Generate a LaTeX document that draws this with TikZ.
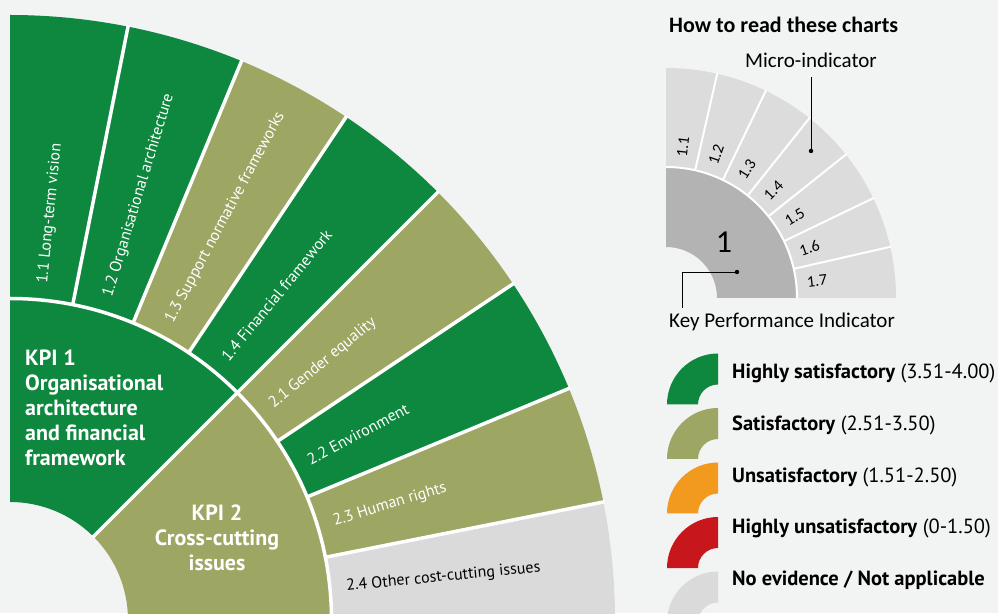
\documentclass[tikz,border=0pt]{standalone}
\usepackage{fontspec}
\setmainfont{PT Sans}
\newfontfamily\calfont{Carlito}
\usetikzlibrary{positioning}

\definecolor{bggray}{HTML}{F2F3F3}
\definecolor{kgreen}{HTML}{0E883E}
\definecolor{kolive}{HTML}{9DA663}
\definecolor{kgray}{HTML}{DADADA}
\definecolor{korange}{HTML}{F29A1E}
\definecolor{kred}{HTML}{C8171C}
\definecolor{mkpi}{HTML}{B3B3B3}
\definecolor{mmicro}{HTML}{DCDCDC}

% colour, from angle, to angle, inner radius, outer radius
\newcommand{\ringpart}[5]{%
  \fill[#1] (#2:#4) arc[start angle=#2,end angle=#3,radius=#4]
    -- (#3:#5) arc[start angle=#3,end angle=#2,radius=#5] -- cycle;}

\begin{document}
\begin{tikzpicture}[x=1pt,y=1pt]
\tikzset{
	%labels in the outer ring
	milabel/.style={anchor=west, inner sep=0pt, font=\fontsize{16}{18}\selectfont},
	%white gaps between the parts
	gap/.style={white, line width=3.5pt},
	smallgap/.style={white, line width=2pt},
	%KPI names
	kpilabel/.style={inner sep=0pt, text=white, font=\bfseries\fontsize{22}{25}\selectfont},
	%legend texts
	keytext/.style={anchor=west, inner sep=0pt, font=\fontsize{20.5}{23}\selectfont},
	dotlbl/.style={font=\calfont\fontsize{21}{24}\selectfont}
}
\useasboundingbox (0,0) rectangle (998,613);
\fill[bggray] (0,0) rectangle (998,613);

\begin{scope}[shift={(10,-7)}]
	%KPI ring
	\ringpart{kgreen}{45}{90}{118}{321.5}
	\ringpart{kolive}{0}{45}{118}{321.5}
	%micro-indicator ring
	\foreach \c/\t/\tc [count=\i from 0] in {
		kgreen/1.1 Long-term vision/white,
		kgreen/1.2 Organisational architecture/white,
		kolive/1.3 Support normative frameworks/white,
		kgreen/1.4 Financial framework/white,
		kolive/2.1 Gender equality/white,
		kgreen/2.2 Environment/white,
		kolive/2.3 Human rights/white,
		kgray/2.4 Other cost-cutting issues/black} {
		\pgfmathsetmacro\a{90-11.25*(\i+1)}
		\pgfmathsetmacro\b{90-11.25*\i}
		\pgfmathsetmacro\m{\a+5.625}
		\ringpart{\c}{\a}{\b}{321.5}{605}
		\node[milabel, text=\tc, rotate=\m] (mi\i) at (\m:338) {\t};
	}
	%gaps
	\foreach \k in {1,2,3,5,6,7}
		\draw[gap] (90-11.25*\k:321.5) -- (90-11.25*\k:606);
	\draw[gap] (45:117) -- (45:606);
	\draw[gap] (0:321.5) arc[start angle=0, end angle=90, radius=321.5];
\end{scope}

%KPI labels
\node[kpilabel, anchor=north west, align=left] (kpi1) at (25,263)
	{KPI 1\\Organisational\\architecture\\and financial\\framework};
\node[kpilabel, anchor=north, align=center] (kpi2) at (217,108)
	{KPI 2\\Cross-cutting\\issues};

%how to read
\node[anchor=west, inner sep=0pt, font=\calfont\bfseries\fontsize{22}{26}\selectfont] (howto) at (669,588) {How to read these charts};
\begin{scope}[shift={(666,315)}]
	\ringpart{mkpi}{0}{90}{51}{131}
	\foreach \i in {1,...,7} {
		\pgfmathsetmacro\a{90-90/7*\i}
		\pgfmathsetmacro\m{\a+45/7}
		\ringpart{mmicro}{\a}{\a+90/7}{131}{230}
		\node[rotate=\m, inner sep=0pt, font=\calfont\fontsize{16}{18}\selectfont] (sm\i) at (\m:152) {1.\i};
	}
	\foreach \i in {1,...,6}
		\draw[smallgap] (90-90/7*\i:131) -- (90-90/7*\i:231);
	\draw[smallgap] (0:131) arc[start angle=0, end angle=90, radius=131];
	\node[font=\calfont\fontsize{32}{36}\selectfont, inner sep=0pt] (one) at (58,56) {1};
\end{scope}

%pointers
\fill (811,462) circle (2.2) coordinate (mdot);
\node[dotlbl, inner sep=9pt] (mlbl) at (811,553) {Micro-indicator};
\draw[thick] (mdot) -- (mlbl);
\fill (737,341) circle (2.2) coordinate (kdot);
\node[dotlbl] (klbl) at (782,291) {Key Performance Indicator};
\coordinate (kend) at (682,305);
\draw[thick] (kdot) -| (kend);

%legend
\foreach \c/\y [count=\i] in {kgreen/208.5, kolive/154, korange/99.5, kred/45, kgray/-9.5} {
	\begin{scope}[shift={(718,\y)}]
		\ringpart{\c}{90}{180}{20}{51}
	\end{scope}
}
\node[keytext] (key1) at (732,240) {\textbf{Highly satisfactory} (3.51-4.00)};
\node[keytext] (key2) at (732,188) {\textbf{Satisfactory} (2.51-3.50)};
\node[keytext] (key3) at (732,136) {\textbf{Unsatisfactory} (1.51-2.50)};
\node[keytext] (key4) at (732,85) {\textbf{Highly unsatisfactory} (0-1.50)};
\node[keytext] (key5) at (732,33) {\textbf{No evidence / Not applicable}};
\end{tikzpicture}
\end{document}
